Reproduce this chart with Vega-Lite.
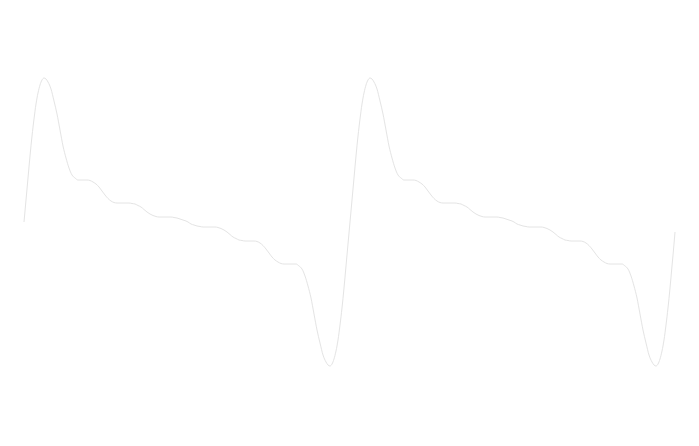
{
  "$schema": "https://vega.github.io/schema/vega-lite/v6.json",
  "width": 699,
  "height": 446,
  "autosize": {"type": "fit", "contains": "padding"},
  "padding": 0,
  "background": "#ffffff",
  "config": {"view": {"stroke": null}},
  "data": {
    "values": [
      {"t": 0.24, "v": 0}, {"t": 0.26, "v": 0.22}, {"t": 0.28, "v": 0.44}, {"t": 0.30, "v": 0.66},
      {"t": 0.32, "v": 0.86}, {"t": 0.34, "v": 1.03}, {"t": 0.36, "v": 1.18}, {"t": 0.38, "v": 1.29},
      {"t": 0.40, "v": 1.37}, {"t": 0.42, "v": 1.42}, {"t": 0.44, "v": 1.44}, {"t": 0.46, "v": 1.43},
      {"t": 0.48, "v": 1.40}, {"t": 0.51, "v": 1.33}, {"t": 0.54, "v": 1.21}, {"t": 0.57, "v": 1.08},
      {"t": 0.60, "v": 0.92}, {"t": 0.63, "v": 0.76}, {"t": 0.66, "v": 0.64}, {"t": 0.69, "v": 0.54},
      {"t": 0.72, "v": 0.47}, {"t": 0.75, "v": 0.44}, {"t": 0.78, "v": 0.42}, {"t": 0.81, "v": 0.42},
      {"t": 0.84, "v": 0.42}, {"t": 0.87, "v": 0.42}, {"t": 0.90, "v": 0.415}, {"t": 0.93, "v": 0.40},
      {"t": 0.96, "v": 0.38}, {"t": 0.99, "v": 0.35}, {"t": 1.02, "v": 0.31}, {"t": 1.05, "v": 0.27},
      {"t": 1.08, "v": 0.235}, {"t": 1.11, "v": 0.21}, {"t": 1.14, "v": 0.195}, {"t": 1.17, "v": 0.19},
      {"t": 1.20, "v": 0.19}, {"t": 1.23, "v": 0.19}, {"t": 1.26, "v": 0.19}, {"t": 1.29, "v": 0.19},
      {"t": 1.32, "v": 0.185}, {"t": 1.35, "v": 0.18}, {"t": 1.38, "v": 0.165}, {"t": 1.41, "v": 0.15},
      {"t": 1.44, "v": 0.125}, {"t": 1.47, "v": 0.10}, {"t": 1.50, "v": 0.08}, {"t": 1.53, "v": 0.065},
      {"t": 1.56, "v": 0.055}, {"t": 1.59, "v": 0.05}, {"t": 1.62, "v": 0.05}, {"t": 1.65, "v": 0.05},
      {"t": 1.68, "v": 0.05}, {"t": 1.71, "v": 0.05}, {"t": 1.74, "v": 0.045}, {"t": 1.77, "v": 0.04},
      {"t": 1.80, "v": 0.03}, {"t": 1.83, "v": 0.02}, {"t": 1.86, "v": 0.01}, {"t": 1.88, "v": 0},
      {"t": 1.91, "v": -0.02}, {"t": 1.94, "v": -0.03}, {"t": 1.97, "v": -0.04}, {"t": 2.00, "v": -0.045},
      {"t": 2.03, "v": -0.05}, {"t": 2.06, "v": -0.05}, {"t": 2.09, "v": -0.05}, {"t": 2.12, "v": -0.05},
      {"t": 2.15, "v": -0.05}, {"t": 2.18, "v": -0.055}, {"t": 2.21, "v": -0.065}, {"t": 2.24, "v": -0.08},
      {"t": 2.27, "v": -0.10}, {"t": 2.30, "v": -0.125}, {"t": 2.33, "v": -0.15}, {"t": 2.36, "v": -0.165},
      {"t": 2.39, "v": -0.18}, {"t": 2.42, "v": -0.185}, {"t": 2.45, "v": -0.19}, {"t": 2.48, "v": -0.19},
      {"t": 2.51, "v": -0.19}, {"t": 2.54, "v": -0.19}, {"t": 2.57, "v": -0.195}, {"t": 2.60, "v": -0.21},
      {"t": 2.63, "v": -0.235}, {"t": 2.66, "v": -0.27}, {"t": 2.69, "v": -0.31}, {"t": 2.72, "v": -0.35},
      {"t": 2.75, "v": -0.38}, {"t": 2.78, "v": -0.40}, {"t": 2.81, "v": -0.415}, {"t": 2.84, "v": -0.42},
      {"t": 2.87, "v": -0.42}, {"t": 2.90, "v": -0.42}, {"t": 2.93, "v": -0.42}, {"t": 2.96, "v": -0.42},
      {"t": 2.99, "v": -0.44}, {"t": 3.02, "v": -0.47}, {"t": 3.05, "v": -0.54}, {"t": 3.08, "v": -0.64},
      {"t": 3.11, "v": -0.76}, {"t": 3.14, "v": -0.92}, {"t": 3.17, "v": -1.08}, {"t": 3.20, "v": -1.21},
      {"t": 3.23, "v": -1.33}, {"t": 3.26, "v": -1.40}, {"t": 3.28, "v": -1.43}, {"t": 3.30, "v": -1.44},
      {"t": 3.32, "v": -1.42}, {"t": 3.34, "v": -1.37}, {"t": 3.36, "v": -1.29}, {"t": 3.38, "v": -1.18},
      {"t": 3.40, "v": -1.03}, {"t": 3.42, "v": -0.86}, {"t": 3.44, "v": -0.66}, {"t": 3.46, "v": -0.44},
      {"t": 3.48, "v": -0.22}, {"t": 3.50, "v": 0},
      {"t": 3.52, "v": 0.22}, {"t": 3.54, "v": 0.44}, {"t": 3.56, "v": 0.66}, {"t": 3.58, "v": 0.86},
      {"t": 3.60, "v": 1.03}, {"t": 3.62, "v": 1.18}, {"t": 3.64, "v": 1.29}, {"t": 3.66, "v": 1.37},
      {"t": 3.68, "v": 1.42}, {"t": 3.70, "v": 1.44}, {"t": 3.72, "v": 1.43}, {"t": 3.74, "v": 1.40},
      {"t": 3.77, "v": 1.33}, {"t": 3.80, "v": 1.21}, {"t": 3.83, "v": 1.08}, {"t": 3.86, "v": 0.92},
      {"t": 3.89, "v": 0.76}, {"t": 3.92, "v": 0.64}, {"t": 3.95, "v": 0.54}, {"t": 3.98, "v": 0.47},
      {"t": 4.01, "v": 0.44}, {"t": 4.04, "v": 0.42}, {"t": 4.07, "v": 0.42}, {"t": 4.10, "v": 0.42},
      {"t": 4.13, "v": 0.42}, {"t": 4.16, "v": 0.415}, {"t": 4.19, "v": 0.40}, {"t": 4.22, "v": 0.38},
      {"t": 4.25, "v": 0.35}, {"t": 4.28, "v": 0.31}, {"t": 4.31, "v": 0.27}, {"t": 4.34, "v": 0.235},
      {"t": 4.37, "v": 0.21}, {"t": 4.40, "v": 0.195}, {"t": 4.43, "v": 0.19}, {"t": 4.46, "v": 0.19},
      {"t": 4.49, "v": 0.19}, {"t": 4.52, "v": 0.19}, {"t": 4.55, "v": 0.19}, {"t": 4.58, "v": 0.185},
      {"t": 4.61, "v": 0.18}, {"t": 4.64, "v": 0.165}, {"t": 4.67, "v": 0.15}, {"t": 4.70, "v": 0.125},
      {"t": 4.73, "v": 0.10}, {"t": 4.76, "v": 0.08}, {"t": 4.79, "v": 0.065}, {"t": 4.82, "v": 0.055},
      {"t": 4.85, "v": 0.05}, {"t": 4.88, "v": 0.05}, {"t": 4.91, "v": 0.05}, {"t": 4.94, "v": 0.05},
      {"t": 4.97, "v": 0.05}, {"t": 5.00, "v": 0.045}, {"t": 5.03, "v": 0.04}, {"t": 5.06, "v": 0.03},
      {"t": 5.09, "v": 0.02}, {"t": 5.12, "v": 0.01}, {"t": 5.14, "v": 0}, {"t": 5.17, "v": -0.02},
      {"t": 5.20, "v": -0.03}, {"t": 5.23, "v": -0.04}, {"t": 5.26, "v": -0.045}, {"t": 5.29, "v": -0.05},
      {"t": 5.32, "v": -0.05}, {"t": 5.35, "v": -0.05}, {"t": 5.38, "v": -0.05}, {"t": 5.41, "v": -0.05},
      {"t": 5.44, "v": -0.055}, {"t": 5.47, "v": -0.065}, {"t": 5.50, "v": -0.08}, {"t": 5.53, "v": -0.10},
      {"t": 5.56, "v": -0.125}, {"t": 5.59, "v": -0.15}, {"t": 5.62, "v": -0.165}, {"t": 5.65, "v": -0.18},
      {"t": 5.68, "v": -0.185}, {"t": 5.71, "v": -0.19}, {"t": 5.74, "v": -0.19}, {"t": 5.77, "v": -0.19},
      {"t": 5.80, "v": -0.19}, {"t": 5.83, "v": -0.195}, {"t": 5.86, "v": -0.21}, {"t": 5.89, "v": -0.235},
      {"t": 5.92, "v": -0.27}, {"t": 5.95, "v": -0.31}, {"t": 5.98, "v": -0.35}, {"t": 6.01, "v": -0.38},
      {"t": 6.04, "v": -0.40}, {"t": 6.07, "v": -0.415}, {"t": 6.10, "v": -0.42}, {"t": 6.13, "v": -0.42},
      {"t": 6.16, "v": -0.42}, {"t": 6.19, "v": -0.42}, {"t": 6.22, "v": -0.42}, {"t": 6.25, "v": -0.44},
      {"t": 6.28, "v": -0.47}, {"t": 6.31, "v": -0.54}, {"t": 6.34, "v": -0.64}, {"t": 6.37, "v": -0.76},
      {"t": 6.40, "v": -0.92}, {"t": 6.43, "v": -1.08}, {"t": 6.46, "v": -1.21}, {"t": 6.49, "v": -1.33},
      {"t": 6.52, "v": -1.40}, {"t": 6.54, "v": -1.43}, {"t": 6.56, "v": -1.44}, {"t": 6.58, "v": -1.42},
      {"t": 6.60, "v": -1.37}, {"t": 6.62, "v": -1.29}, {"t": 6.64, "v": -1.18}, {"t": 6.66, "v": -1.03},
      {"t": 6.68, "v": -0.86}, {"t": 6.70, "v": -0.66}, {"t": 6.72, "v": -0.44}, {"t": 6.74, "v": -0.22},
      {"t": 6.75, "v": -0.10}
    ]
  },
  "mark": {
    "type": "line",
    "interpolate": "monotone",
    "color": "#e4e4e4",
    "strokeWidth": 1
  },
  "encoding": {
    "x": {
      "field": "t",
      "type": "quantitative",
      "scale": {"domain": [0, 6.99], "nice": false, "zero": false},
      "axis": null
    },
    "y": {
      "field": "v",
      "type": "quantitative",
      "scale": {"domain": [-2.24, 2.22], "nice": false, "zero": false},
      "axis": null
    }
  }
}
